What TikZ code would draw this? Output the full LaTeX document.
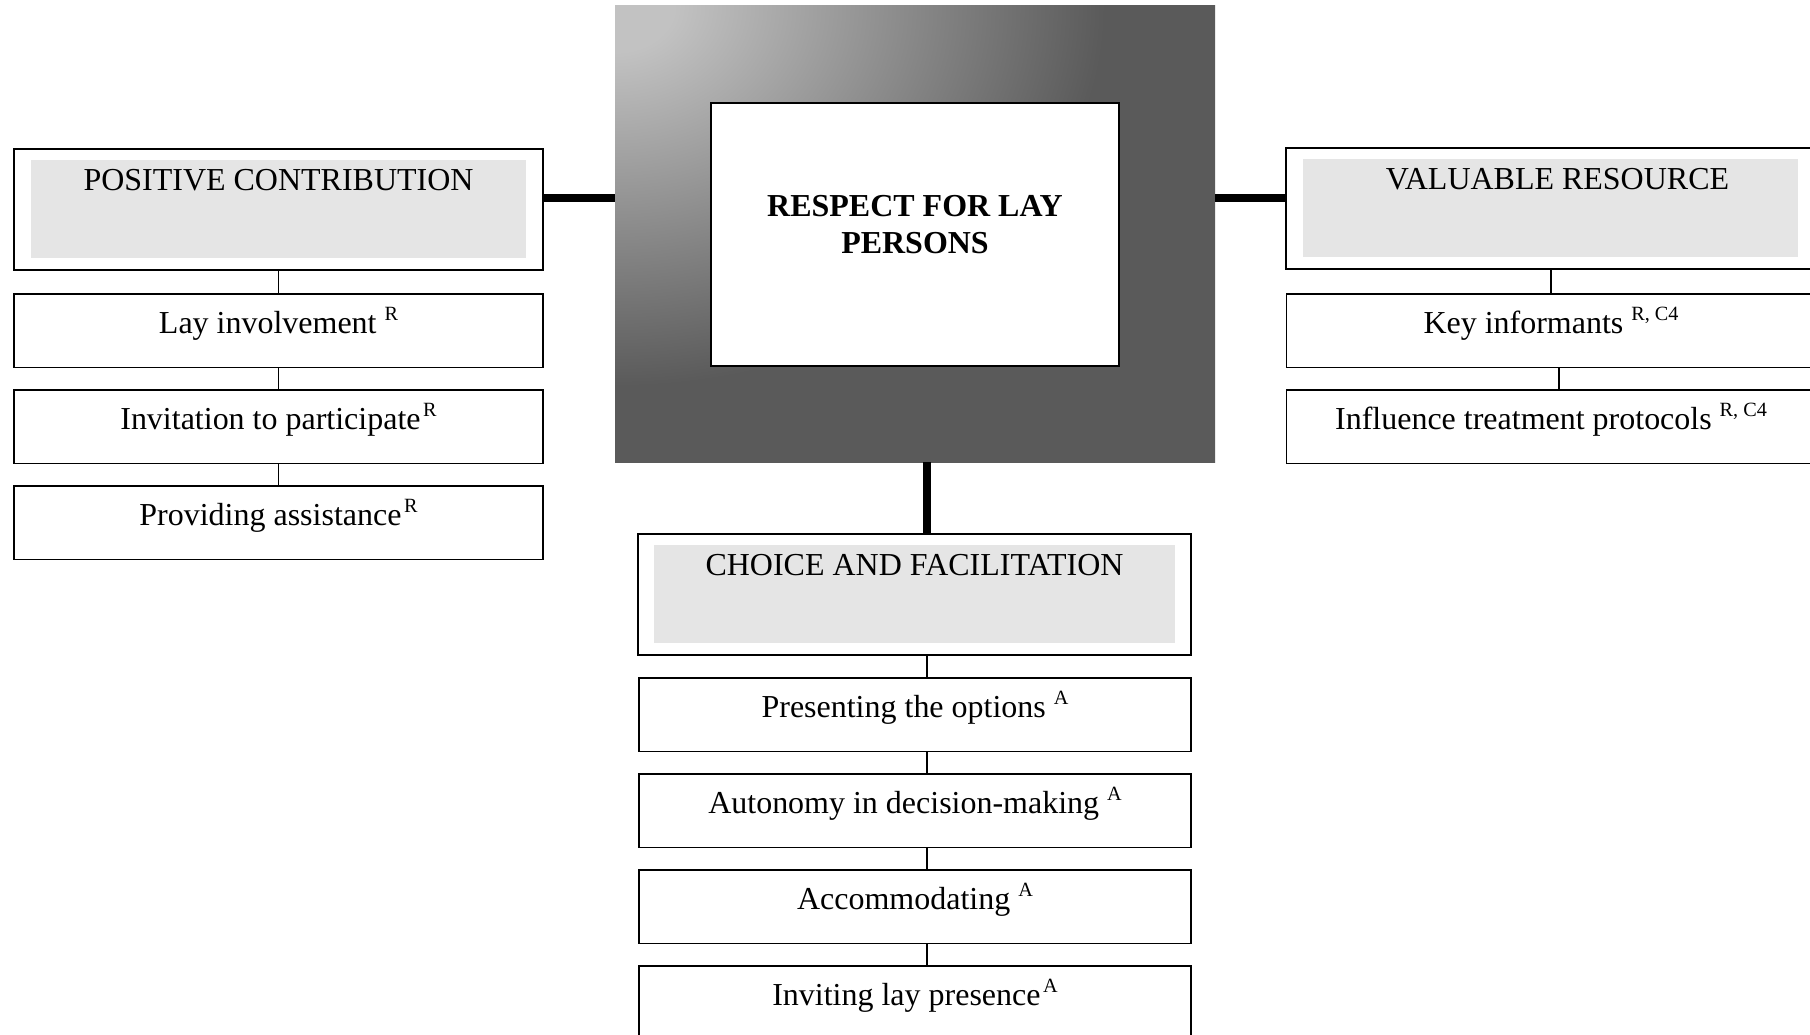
\documentclass[tikz,border=0pt]{standalone}
\usepackage{fontspec}
\setmainfont{Liberation Serif}
\usetikzlibrary{fit}
\definecolor{corelight}{RGB}{194,194,194}
\definecolor{coredark}{RGB}{90,90,90}
\definecolor{headgray}{RGB}{229,229,229}
\pgfdeclareradialshading{coreglow}{\pgfpointorigin}{color(0bp)=(corelight); color(1.5bp)=(corelight); color(12.5bp)=(coredark); color(50bp)=(coredark)}
\newcommand{\supref}[1]{\raisebox{7.8pt}{\fontsize{11.5}{13}\selectfont #1}}

\begin{document}
\begin{tikzpicture}[font=\fontsize{18.2}{21}\selectfont,
   headfill/.style={fill=headgray, inner sep=0pt, minimum width=9.9cm, minimum height=1.96cm, text height=.60cm, text depth=1.36cm, anchor=north},
   headframe/.style={draw, line width=1.1pt, inner xsep=.34cm, inner ysep=.22cm},
   item/.style={draw, line width=1.1pt, inner sep=0pt, minimum width=10.58cm, minimum height=1.47cm, text height=.80cm, text depth=.67cm, anchor=north},
   core/.style={fill=coredark, inner sep=0pt, minimum width=12cm, minimum height=9.12cm,
      path picture={\shade[shading=coreglow] (path picture bounding box.north west) ellipse [x radius=19.6cm, y radius=15.2cm];}},
   link/.style={line width=.75pt},
   arm/.style={line width=4.5pt}]
\useasboundingbox (0,0) rectangle (36.2,-20.7);
\clip (0,0) rectangle (36.2,-20.7);
%
       \node [core] at (18.3,-4.68) (core) {};
          \node [draw, fill=white, line width=1.1pt, minimum width=8.16cm, minimum height=5.26cm] at (18.3,-4.69) (resp) {};
             \node [font=\fontsize{18.2}{21}\selectfont\bfseries, align=center, anchor=north, inner sep=0pt] at (18.3,-3.9) (resptitle) {RESPECT FOR LAY\\PERSONS};
%
       \node [headfill] at (5.57,-3.2) (posfill) {POSITIVE CONTRIBUTION};
          \node [headframe, fit=(posfill)] (pos) {};
             \node [item] at (5.57,-5.86) (layinv) {Lay involvement \supref{R}};
             \node [item] at (5.57,-7.78) (invite) {Invitation to participate\hspace{1.5pt}\supref{R}};
             \node [item] at (5.57,-9.70) (assist) {Providing assistance\hspace{1.5pt}\supref{R}};
%
       \node [headfill] at (31.01,-3.18) (valfill) {\hspace*{.28cm}VALUABLE RESOURCE};
          \node [headframe, fit=(valfill)] (val) {};
             \node [item] at (31.02,-5.86) (keyinf) {Key informants \supref{R, C4}};
             \node [item] at (31.02,-7.78) (protocol) {Influence treatment protocols \supref{R, C4}};
%
       \node [headfill, minimum width=10.42cm] at (18.29,-10.9) (choicefill) {CHOICE AND FACILITATION};
          \node [headframe, inner xsep=.31cm, fit=(choicefill)] (choice) {};
             \node [item, minimum width=11.04cm] at (18.3,-13.54) (options) {Presenting the options \supref{A}};
             \node [item, minimum width=11.04cm] at (18.3,-15.46) (autonomy) {Autonomy in decision-making \supref{A}};
             \node [item, minimum width=11.04cm] at (18.3,-17.38) (accommod) {Accommodating \supref{A}};
             \node [item, minimum width=11.04cm] at (18.3,-19.30) (inviting) {Inviting lay presence\hspace{1.5pt}\supref{A}};
%
\coordinate (armlevel) at (0,-3.96);
\coordinate (spine) at (18.54,0);
\coordinate (rspine) at (31.18,0);
%
\path[arm] (pos.east |- armlevel) edge (core.west |- armlevel);
\path[arm] (core.east |- armlevel) edge (val.west |- armlevel);
\path[arm] (core.south -| spine) edge (choice.north -| spine);
\path[link] (pos) edge (layinv);
\path[link] (layinv) edge (invite);
\path[link] (invite) edge (assist);
\path[link] (val.south -| keyinf) edge (keyinf);
\path[link] (keyinf.south -| rspine) edge (protocol.north -| rspine);
\path[link] (choice.south -| spine) edge (options.north -| spine);
\path[link] (options.south -| spine) edge (autonomy.north -| spine);
\path[link] (autonomy.south -| spine) edge (accommod.north -| spine);
\path[link] (accommod.south -| spine) edge (inviting.north -| spine);

\end{tikzpicture}
\end{document}
